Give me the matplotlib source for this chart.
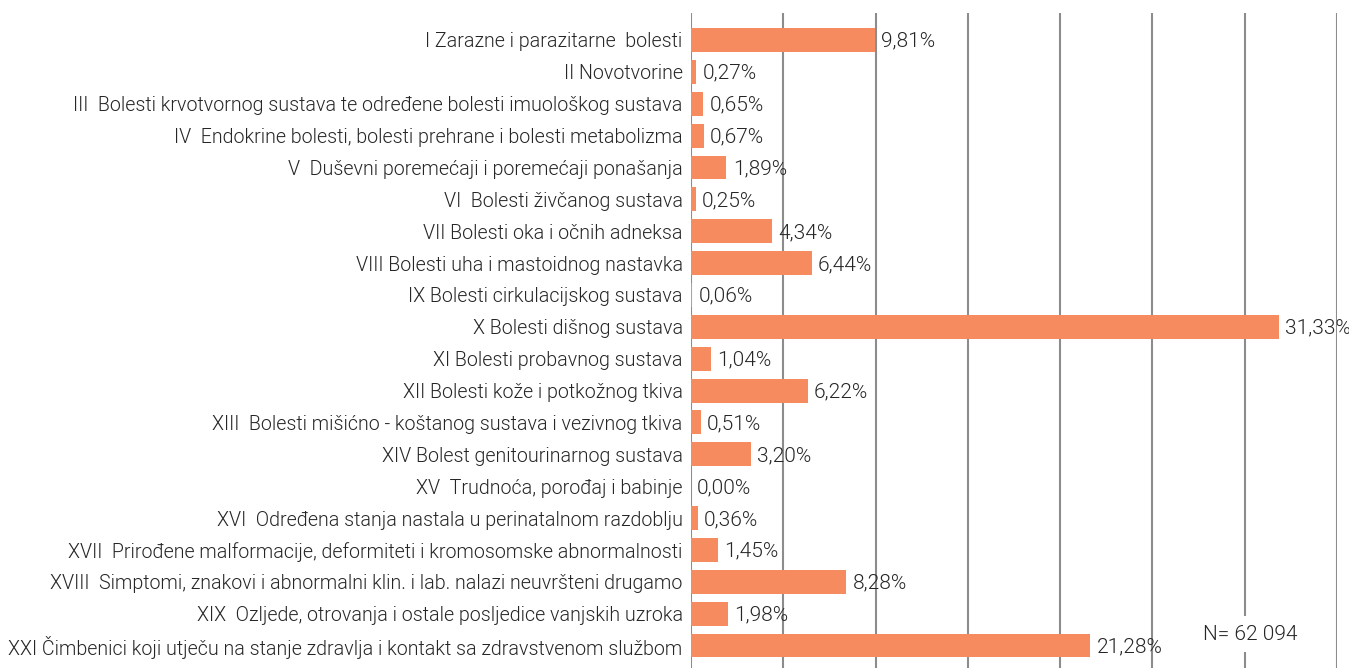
import matplotlib
matplotlib.use("Agg")
import matplotlib.pyplot as plt
import numpy as np

categories = [
    "I Zarazne i parazitarne  bolesti",
    "II Novotvorine",
    "III  Bolesti krvotvornog sustava te određene bolesti imuološkog sustava",
    "IV  Endokrine bolesti, bolesti prehrane i bolesti metabolizma",
    "V  Duševni poremećaji i poremećaji ponašanja",
    "VI  Bolesti živčanog sustava",
    "VII Bolesti oka i očnih adneksa",
    "VIII Bolesti uha i mastoidnog nastavka",
    "IX Bolesti cirkulacijskog sustava",
    "X Bolesti dišnog sustava",
    "XI Bolesti probavnog sustava",
    "XII Bolesti kože i potkožnog tkiva",
    "XIII  Bolesti mišićno - koštanog sustava i vezivnog tkiva",
    "XIV Bolest genitourinarnog sustava",
    "XV  Trudnoća, porođaj i babinje",
    "XVI  Određena stanja nastala u perinatalnom razdoblju",
    "XVII  Prirođene malformacije, deformiteti i kromosomske abnormalnosti",
    "XVIII  Simptomi, znakovi i abnormalni klin. i lab. nalazi neuvršteni drugamo",
    "XIX  Ozljede, otrovanja i ostale posljedice vanjskih uzroka",
    "XXI Čimbenici koji utječu na stanje zdravlja i kontakt sa zdravstvenom službom",
]
values = [9.81, 0.27, 0.65, 0.67, 1.89, 0.25, 4.34, 6.44, 0.06, 31.33,
          1.04, 6.22, 0.51, 3.20, 0.00, 0.36, 1.45, 8.28, 1.98, 21.28]
note = "N= 62 094"

BAR = "#F68B5F"
TXT = "#262626"
GRID = "#8c8c8c"
FONT = "Roboto"
WEIGHT = 300

W, H = 1349, 668
fig = plt.figure(figsize=(W / 100, H / 100), dpi=100)
x0, x1 = 691, 1337
y_top, y_bot = 13, 668
ax = fig.add_axes([x0 / W, 1 - y_bot / H, (x1 - x0) / W, (y_bot - y_top) / H])

n = len(values)
y = np.arange(n)
xmax = 34.44
ax.set_xlim(0, xmax)
ax.set_ylim(n - 1 + 0.706, -0.847)

ax.barh(y, values, height=0.75, color=BAR, zorder=2)

ax.set_xticks(np.linspace(0, xmax, 8))
ax.xaxis.grid(True, color=GRID, linewidth=1.5, zorder=1)
ax.tick_params(axis="x", length=0, labelbottom=False)
ax.set_yticks(y)
ax.set_yticklabels(categories, fontsize=14.1, color=TXT, family=FONT, fontweight=WEIGHT)
ax.tick_params(axis="y", length=0, pad=6)
for s in ax.spines.values():
    s.set_visible(False)

for yi, v in zip(y, values):
    ax.annotate(f"{v:.2f}%".replace(".", ","), (v, yi), xytext=(4.5, -1),
                textcoords="offset points", va="center", ha="left",
                fontsize=15, color=TXT, family=FONT, fontweight=WEIGHT,
                annotation_clip=False, zorder=3)

fig.text(1250 / W, 1 - 634 / H, note, ha="center", va="center", fontsize=15,
         color=TXT, family=FONT, fontweight=WEIGHT,
         bbox=dict(facecolor="white", edgecolor="none", pad=6))

fig.savefig("out.png", dpi=100, facecolor="white")
